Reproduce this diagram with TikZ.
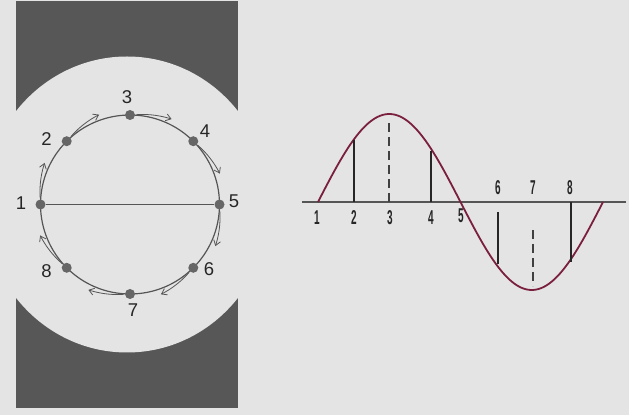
\documentclass[tikz,border=0pt]{standalone}
\usepackage{fontspec}
\usepackage{graphicx}
\setmainfont{Liberation Sans}
\usetikzlibrary{arrows.meta,calc}
\definecolor{bg}{HTML}{E4E4E4}
\definecolor{darkpanel}{HTML}{575757}
\definecolor{dotgray}{HTML}{666666}
\definecolor{linegray}{HTML}{555555}
\definecolor{wave}{HTML}{7B1F3F}
\tikzset{
  cdot/.style={circle,fill=dotgray,inner sep=0pt,minimum size=10pt},
  clab/.style={font=\fontsize{18.5}{18.5}\selectfont,text=black!85,inner sep=0pt},
  wlab/.style={font=\fontsize{20}{20}\selectfont\bfseries,text=black!85,inner sep=0pt},
  movearrow/.style={draw=linegray,line width=0.8pt,-{Straight Barb[length=5pt,width=7pt]}},
  vline/.style={draw=black!85,line width=1.4pt},
  dline/.style={draw=black!75,line width=1.3pt,dash pattern=on 9pt off 5pt},
}
\newcommand{\nar}[1]{\scalebox{0.5}[1]{#1}}
\begin{document}
\begin{tikzpicture}[x=1pt,y=1pt]
\useasboundingbox (0,0) rectangle (629,415);
\fill[bg] (0,0) rectangle (629,415);
% left panel
\fill[darkpanel] (16,7) rectangle (238,414);
\fill[bg] (127,210.5) ellipse [x radius=143, y radius=148];
\fill[bg] (0,0) rectangle (16,415);
\fill[bg] (238,0) rectangle (250,415);
\coordinate (c) at (130,210.5);
\draw[linegray,line width=1.2pt] (c) circle [radius=89.5];
\foreach \i/\a in {1/180,2/135,3/90,4/45,5/0,6/-45,7/-90,8/-135}{
  \node[cdot] (p\i) at ($(c)+(\a:89.5)$) {};
}
\draw[linegray,line width=1.2pt] (p1) -- (p5);
\foreach \a in {180,135,90,45,0,-45,-90,-135}{
  \draw[movearrow,smooth,samples=20,domain=0:1,variable=\t]
    plot ({130+(90+5*\t)*cos(\a-4-22*\t)},{210.5+(90+5*\t)*sin(\a-4-22*\t)});
}
\node[clab] (l1) at (21,212) {1};
\node[clab] (l2) at (46.5,276) {2};
\node[clab] (l3) at (127,317.5) {3};
\node[clab] (l4) at (205,283.5) {4};
\node[clab] (l5) at (234,213.5) {5};
\node[clab] (l6) at (209,146) {6};
\node[clab] (l7) at (133,104.5) {7};
\node[clab] (l8) at (46.5,143.5) {8};
% right panel
\coordinate (ax0) at (302,213);
\coordinate (ax1) at (626,213);
\draw[linegray,line width=1.3pt] (ax0) -- (ax1);
\draw[wave,line width=1.8pt,smooth,samples=120,domain=0:360,variable=\t]
  plot ({318+0.79167*\t},{213+88*sin(\t)});
\coordinate (b2) at (354,213); \coordinate (t2) at (354,275);
\coordinate (b3) at (389,213); \coordinate (t3) at (389,294);
\coordinate (b4) at (431,213); \coordinate (t4) at (431,264);
\coordinate (b6) at (498,203); \coordinate (t6) at (498,151);
\coordinate (b7) at (533,185); \coordinate (t7) at (533,129);
\coordinate (b8) at (571,213); \coordinate (t8) at (571,153);
\draw[vline] (b2) -- (t2);
\draw[dline] (b3) -- (t3);
\draw[vline] (b4) -- (t4);
\draw[vline] (b6) -- (t6);
\draw[dline] (b7) -- (t7);
\draw[vline] (b8) -- (t8);
\node[wlab] (w1) at (317,197) {\nar{1}};
\node[wlab] (w2) at (354,197) {\nar{2}};
\node[wlab] (w3) at (390,197) {\nar{3}};
\node[wlab] (w4) at (431,197) {\nar{4}};
\node[wlab] (w5) at (461,199) {\nar{5}};
\node[wlab] (w6) at (498,227) {\nar{6}};
\node[wlab] (w7) at (533,227) {\nar{7}};
\node[wlab] (w8) at (570,227) {\nar{8}};
\end{tikzpicture}
\end{document}
